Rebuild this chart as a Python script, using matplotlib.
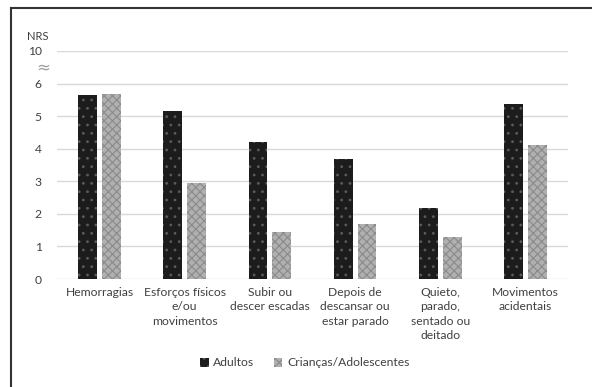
import matplotlib
matplotlib.use("Agg")
import matplotlib.pyplot as plt
import numpy as np
from matplotlib.lines import Line2D
from matplotlib.patches import Patch

categorias = ["Hemorragias", "Esforços físicos\ne/ou\nmovimentos", "Subir ou\ndescer escadas",
              "Depois de\ndescansar ou\nestar parado", "Quieto,\nparado,\nsentado ou\ndeitado",
              "Movimentos\nacidentais"]
adultos = [5.66, 5.17, 4.22, 3.67, 2.17, 5.36]
criancas = [5.68, 2.94, 1.44, 1.68, 1.28, 4.10]
posicoes_y = [0, 1, 2, 3, 4, 5, 6, 7]
rotulos_y = ["0", "1", "2", "3", "4", "5", "6", "10"]

plt.rcParams["font.family"] = ["Lato", "DejaVu Sans"]
plt.rcParams["hatch.linewidth"] = 0.8
COR_TEXTO = "#404040"
TAM = 8.7

fig = plt.figure(figsize=(5.92, 3.87), dpi=100)
ax = fig.add_axes([57 / 592, 1 - 279 / 387, 511 / 592, 228 / 387])

x = np.arange(len(categorias))
larg = 0.22
ax.bar(x - 0.14, adultos, larg, color="#1c1c1c", edgecolor="#5a5a5a",
       hatch="..", linewidth=0, zorder=3)
ax.bar(x + 0.14, criancas, larg, color="#b0b0b0", edgecolor="#8a8a8a",
       hatch="xxxx", linewidth=0, zorder=3)

ax.set_xlim(-0.5, len(categorias) - 0.5)
ax.set_ylim(0, 7)
ax.set_yticks(posicoes_y)
ax.set_yticklabels(rotulos_y)
ax.set_xticks(x)
ax.set_xticklabels(categorias, linespacing=1.35)
ax.tick_params(length=0, labelsize=TAM, colors=COR_TEXTO, pad=6)
ax.tick_params(axis="y", pad=11)
ax.yaxis.grid(True, color="#d9d9d9", linewidth=1, zorder=0)
for s in ax.spines.values():
    s.set_visible(False)

trans_y = ax.get_yaxis_transform()
ax.text(-0.037, 7.46, "NRS", transform=trans_y, fontsize=8, color=COR_TEXTO,
        ha="center", va="center")
ax.text(-0.027, 6.5, "≈", transform=trans_y, fontsize=12, color="#a0a0a0",
        ha="center", va="center", family="DejaVu Sans")

handles = [Patch(facecolor="#1c1c1c", edgecolor="#5a5a5a", hatch="..", linewidth=0),
           Patch(facecolor="#b0b0b0", edgecolor="#8a8a8a", hatch="xxxx", linewidth=0)]
fig.legend(handles, ["Adultos", "Crianças/Adolescentes"], loc="center",
           bbox_to_anchor=(0.515, 1 - 363 / 387), ncol=2, frameon=False,
           fontsize=TAM, labelcolor=COR_TEXTO, handlelength=0.7, handleheight=0.7,
           handletextpad=0.4, columnspacing=1.6)

# moldura (apenas topo e esquerda, imagem recortada)
fig.add_artist(Line2D([11 / 592, 11 / 592], [0, 1 - 8 / 387], transform=fig.transFigure,
                      color="#333333", linewidth=1.5))
fig.add_artist(Line2D([11 / 592, 1], [1 - 8 / 387, 1 - 8 / 387], transform=fig.transFigure,
                      color="#333333", linewidth=1.5))

fig.savefig("out.png", dpi=100)
